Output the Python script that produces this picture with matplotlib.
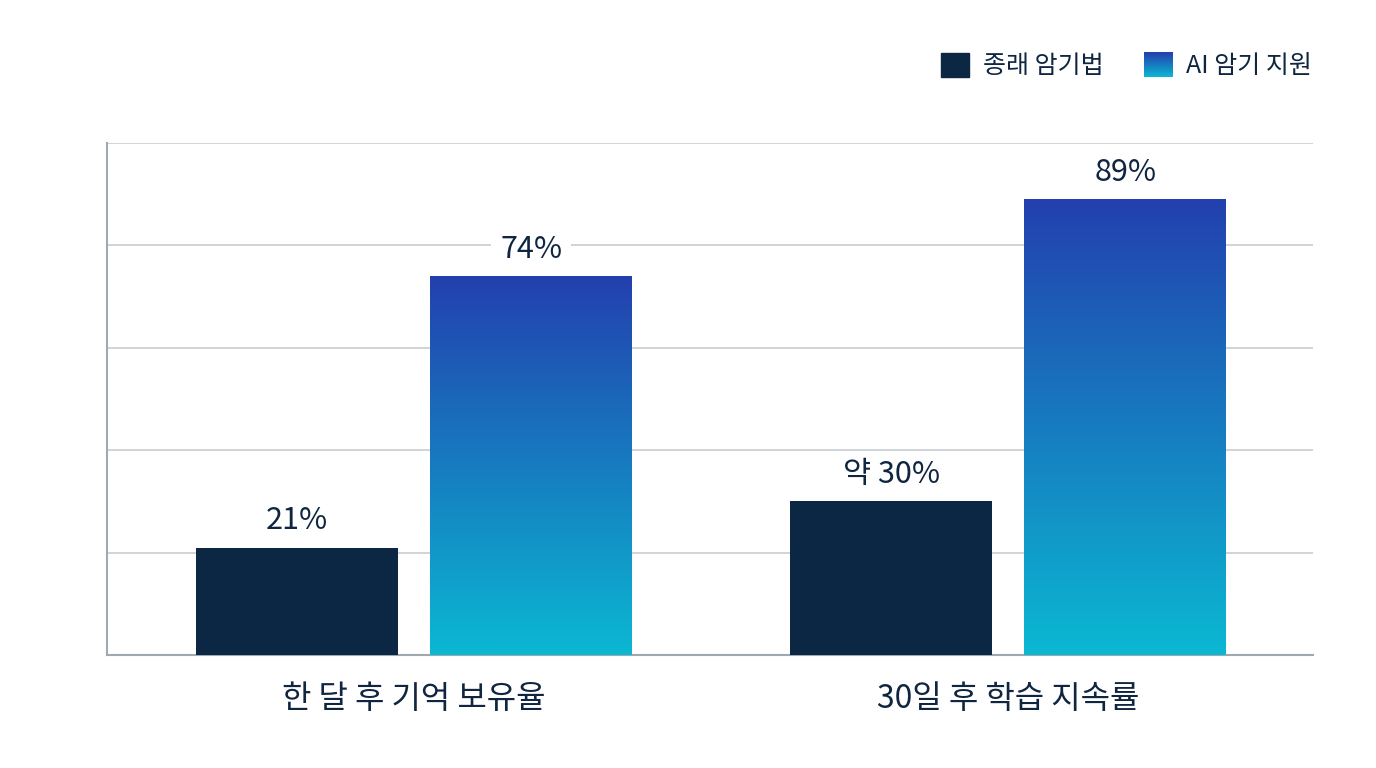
import numpy as np
import matplotlib
matplotlib.use("Agg")
import matplotlib.pyplot as plt
from matplotlib.colors import LinearSegmentedColormap, to_rgb
from matplotlib.patches import Rectangle
from matplotlib.legend_handler import HandlerBase

plt.rcParams['font.family'] = ['Noto Sans CJK KR', 'DejaVu Sans']

# data
categories = ["한 달 후 기억 보유율", "30일 후 학습 지속률"]
series_names = ["종래 암기법", "AI 암기 지원"]
old_values = [21, 30]
ai_values = [74, 89]
old_labels = ["21%", "약 30%"]
ai_labels = ["74%", "89%"]

dark = "#0C2744"
grad_top = "#2340AE"
grad_bottom = "#0BB8D2"
text_c = "#0F2540"
cmap = LinearSegmentedColormap.from_list("g", [grad_bottom, grad_top])
gradient = np.linspace(0, 1, 256).reshape(-1, 1)

fig = plt.figure(figsize=(13.76, 7.68), dpi=100)
ax = fig.add_axes([0.0778, 0.1471, 0.8764, 0.6667])

x = np.arange(len(categories))
w = 0.34
off = 0.197

ax.bar(x - off, old_values, w, color=dark, zorder=3)
ai_bars = ax.bar(x + off, ai_values, w, color="none", zorder=3)
for b in ai_bars:
    x0, y0 = b.get_x(), b.get_y()
    ax.imshow(gradient, cmap=cmap, origin="lower", aspect="auto",
              extent=[x0, x0 + b.get_width(), y0, y0 + b.get_height()], zorder=3)

# value labels above bars
for xi, v, lab in zip(x - off, old_values, old_labels):
    ax.text(xi, v + 2.2, lab, ha="center", va="bottom", fontsize=22, color=text_c, zorder=5)
for xi, v, lab in zip(x + off, ai_values, ai_labels):
    ax.text(xi, v + 2.2, lab, ha="center", va="bottom", fontsize=22, color=text_c, zorder=5,
            bbox=dict(boxstyle="square,pad=0.3", fc="white", ec="none"))

ax.set_xlim(-0.517, 1.513)
ax.set_ylim(0, 100)
ax.set_yticks([0, 20, 40, 60, 80, 100])
ax.set_yticklabels([])
ax.tick_params(axis="y", length=0)
ax.grid(axis="y", color="#C8CDD2", linewidth=1.2, zorder=0)
ax.set_xticks(x)
ax.set_xticklabels(categories, fontsize=23, color=text_c)
ax.tick_params(axis="x", length=0, pad=20)
for s in ["top", "right"]:
    ax.spines[s].set_visible(False)
for s in ["left", "bottom"]:
    ax.spines[s].set_color("#A0A8B0")
    ax.spines[s].set_linewidth(1.5)


# legend handle with vertical gradient
class GradientHandler(HandlerBase):
    def create_artists(self, legend, orig, xd, yd, width, height, fontsize, trans):
        arts = []
        n = 30
        c0, c1 = np.array(to_rgb(grad_top)), np.array(to_rgb(grad_bottom))
        for i in range(n):
            t = i / (n - 1)
            col = c1 * (1 - t) + c0 * t
            r = Rectangle((-xd, -yd + height * i / n), width, height / n + 0.3,
                          facecolor=col, edgecolor="none", transform=trans)
            arts.append(r)
        return arts


h1 = Rectangle((0, 0), 1, 1, color=dark)
h2 = Rectangle((0, 0), 1, 1, color=grad_top)
fig.legend([h1, h2], series_names, loc="center right", bbox_to_anchor=(0.970, 0.914),
           ncol=2, frameon=False, fontsize=18, handlelength=1.15, handleheight=1.15,
           handletextpad=0.55, columnspacing=1.6, labelcolor=text_c,
           handler_map={h2: GradientHandler()})

fig.savefig("out.png", dpi=100, facecolor="white")
